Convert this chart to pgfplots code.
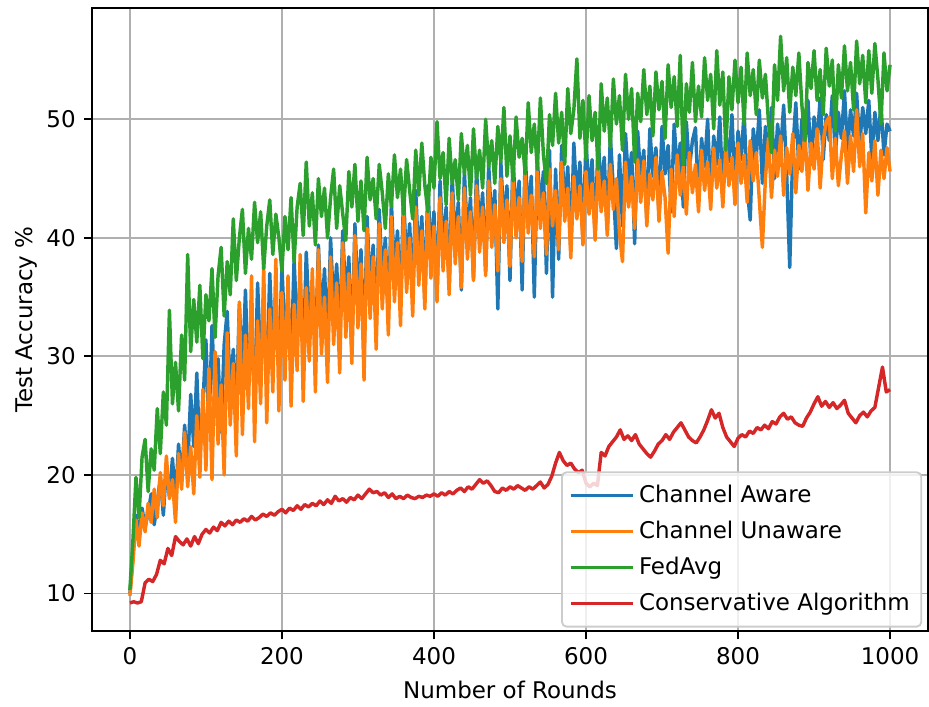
\documentclass[border=0pt]{standalone}
\usepackage{fontspec}
\setmainfont{DejaVu Sans}
\usepackage{pgfplots}
\pgfplotsset{compat=1.18}
\definecolor{tabblue}{HTML}{1F77B4}
\definecolor{taborange}{HTML}{FF7F0E}
\definecolor{tabgreen}{HTML}{2CA02C}
\definecolor{tabred}{HTML}{D62728}
\definecolor{gridgray}{HTML}{B0B0B0}
\definecolor{legedge}{HTML}{CCCCCC}
\begin{document}
\begin{tikzpicture}
\begin{axis}[
  scale only axis, width=364pt, height=271.3pt,
  xmin=-50, xmax=1050, ymin=6.81, ymax=59.39,
  xtick={0,200,400,600,800,1000}, ytick={10,20,30,40,50},
  grid=major, major grid style={color=gridgray, line width=0.8pt},
  axis line style={line width=0.8pt},
  tick align=outside, major tick length=3.5pt,
  tick style={black, line width=0.8pt},
  xtick pos=bottom, ytick pos=left,
  xlabel={Number of Rounds}, ylabel={Test Accuracy \%},
  ylabel style={yshift=-3pt},
  /pgf/number format/assume math mode=true,
  /pgf/number format/1000 sep={},
  tick label style={font=\fontsize{10}{12}\selectfont},
  label style={font=\fontsize{10}{12}\selectfont},
  legend cell align=left,
  legend style={at={(0.993,0.006)}, anchor=south east, draw=legedge, fill=white,
    fill opacity=0.8, text opacity=1, rounded corners=2pt, line width=0.8pt,
    font=\fontsize{10}{12}\selectfont, row sep=2.6pt, inner xsep=3pt, inner ysep=3.5pt},
  legend image code/.code={\draw[#1, line width=1.5pt] (0cm,0cm) -- (0.8cm,0cm); \path (0.8cm,0cm) -- (0.95cm,0cm);},
  every axis plot/.append style={line width=1.5pt, line join=round},
]
\addplot[color=tabblue] coordinates {
(0,10.0)(4,13.2)(8,16.6)(12,15.0)(16,17.2)(20,15.6)(24,16.8)(28,18.4)(32,15.8)(36,17.6)
(40,19.8)(44,16.6)(48,20.6)(52,18.2)(56,21.4)(60,17.8)(64,22.6)(68,19.4)(72,24.2)(76,20.6)
(80,26.8)(84,22.4)(88,28.6)(92,21.6)(96,25.8)(100,31.4)(104,23.8)(108,32.6)(112,26.4)(116,29.8)
(120,23.6)(124,31.0)(128,33.8)(132,26.8)(136,30.6)(140,25.2)(144,34.4)(148,28.2)(152,35.6)(156,27.4)
(160,32.6)(164,26.0)(168,36.2)(172,29.4)(176,33.8)(180,27.6)(184,37.0)(188,30.2)(192,34.6)(196,28.8)
(200,37.6)(204,31.4)(208,35.2)(212,29.0)(216,38.2)(220,32.0)(224,36.4)(228,29.6)(232,38.8)(236,33.0)
(240,36.0)(244,30.2)(248,39.4)(252,32.8)(256,37.4)(260,30.8)(264,40.0)(268,34.0)(272,37.8)(276,31.6)
(280,40.6)(284,34.6)(288,38.4)(292,30.4)(296,41.2)(300,35.0)(304,39.0)(308,29.8)(312,41.8)(316,35.6)
(320,39.4)(324,32.6)(328,42.4)(332,36.4)(336,40.0)(340,33.4)(344,43.0)(348,37.0)(352,40.6)(356,34.2)
(360,43.6)(364,37.6)(368,41.2)(372,35.0)(376,44.0)(380,38.0)(384,41.8)(388,34.6)(392,44.4)(396,38.6)
(400,42.2)(404,35.2)(408,44.8)(412,39.0)(416,42.6)(420,36.0)(424,45.2)(428,39.4)(432,43.0)(436,35.6)
(440,45.6)(444,40.0)(448,43.4)(452,36.6)(456,45.8)(460,40.4)(464,43.8)(468,37.2)(472,46.2)(476,40.8)
(480,44.0)(484,34.0)(488,46.4)(492,41.2)(496,44.4)(500,36.4)(504,46.8)(508,41.6)(512,44.8)(516,35.6)
(520,47.0)(524,42.0)(528,45.2)(532,35.0)(536,46.6)(540,42.4)(544,45.6)(548,37.0)(552,47.4)(556,35.0)
(560,45.8)(564,38.2)(568,47.8)(572,42.8)(576,46.0)(580,39.0)(584,48.0)(588,43.2)(592,46.4)(596,39.8)
(600,48.2)(604,43.6)(608,46.6)(612,40.2)(616,48.4)(620,44.0)(624,46.8)(628,40.6)(632,48.6)(636,44.2)
(640,39.1)(644,47.0)(648,41.0)(652,48.8)(656,44.6)(660,47.2)(664,39.5)(668,49.0)(672,45.0)(676,47.4)
(680,41.6)(684,49.2)(688,45.2)(692,47.6)(696,42.0)(700,49.4)(704,45.4)(708,47.8)(712,42.2)(716,49.6)
(720,45.6)(724,48.0)(728,42.6)(732,49.8)(736,45.8)(740,48.2)(744,49.3)(748,43.0)(752,48.4)(756,46.0)
(760,50.0)(764,43.4)(768,48.6)(772,46.2)(776,50.2)(780,43.8)(784,48.8)(788,46.4)(792,50.4)(796,44.0)
(800,49.0)(804,46.6)(808,50.6)(812,44.2)(816,41.5)(820,49.2)(824,46.8)(828,50.8)(832,44.6)(836,49.4)
(840,47.0)(844,51.0)(848,45.0)(852,49.6)(856,47.2)(860,51.2)(864,45.4)(868,37.5)(872,47.4)(876,51.4)
(880,45.8)(884,50.0)(888,47.6)(892,51.6)(896,46.2)(900,50.2)(904,48.0)(908,51.8)(912,46.6)(916,50.4)
(920,48.2)(924,52.0)(928,47.0)(932,50.6)(936,48.4)(940,52.4)(944,47.4)(948,50.8)(952,48.6)(956,52.2)
(960,47.8)(964,51.0)(968,48.8)(972,51.6)(976,46.6)(980,50.6)(984,48.2)(988,51.2)(992,47.0)(996,49.6)
(1000,49.0)
};
\addlegendentry{Channel Aware}
\addplot[color=taborange] coordinates {
(0,9.8)(4,12.6)(8,16.2)(12,14.0)(16,16.8)(20,15.2)(24,17.6)(28,16.0)(32,18.8)(36,16.4)
(40,20.2)(44,17.4)(48,21.6)(52,18.0)(56,19.6)(60,16.0)(64,21.8)(68,18.8)(72,23.6)(76,19.0)
(80,22.4)(84,18.4)(88,25.0)(92,19.8)(96,27.2)(100,20.4)(104,29.0)(108,19.6)(112,30.4)(116,22.6)
(120,27.6)(124,20.0)(128,32.0)(132,24.2)(136,29.4)(140,21.6)(144,34.6)(148,23.4)(152,31.8)(156,25.6)
(160,36.8)(164,22.8)(168,33.0)(172,26.0)(176,37.6)(180,24.4)(184,34.0)(188,27.0)(192,38.2)(196,25.4)
(200,35.4)(204,28.0)(208,36.8)(212,25.8)(216,34.4)(220,28.8)(224,38.6)(228,26.2)(232,35.8)(236,29.6)
(240,37.4)(244,27.0)(248,39.0)(252,30.2)(256,35.0)(260,27.8)(264,38.4)(268,31.0)(272,36.2)(276,28.6)
(280,39.6)(284,31.6)(288,37.0)(292,29.4)(296,40.2)(300,32.4)(304,37.8)(308,28.0)(312,40.8)(316,33.2)
(320,38.4)(324,30.6)(328,41.2)(332,34.0)(336,39.0)(340,31.8)(344,41.8)(348,34.6)(352,39.6)(356,32.6)
(360,42.2)(364,35.4)(368,40.0)(372,33.4)(376,42.6)(380,36.0)(384,40.6)(388,34.0)(392,43.0)(396,36.6)
(400,41.0)(404,34.6)(408,43.4)(412,37.2)(416,41.4)(420,35.2)(424,43.8)(428,37.8)(432,41.8)(436,35.8)
(440,44.2)(444,38.2)(448,42.2)(452,36.4)(456,44.4)(460,38.8)(464,42.6)(468,36.8)(472,44.8)(476,39.2)
(480,42.8)(484,37.2)(488,45.0)(492,39.6)(496,43.2)(500,37.6)(504,45.2)(508,40.0)(512,43.4)(516,38.0)
(520,45.4)(524,40.4)(528,43.6)(532,38.4)(536,45.6)(540,40.8)(544,43.8)(548,38.6)(552,45.8)(556,41.0)
(560,44.0)(564,39.0)(568,46.4)(572,41.4)(576,44.2)(580,38.3)(584,45.2)(588,41.6)(592,44.4)(596,39.4)
(600,45.6)(604,42.0)(608,44.6)(612,39.8)(616,46.0)(620,42.2)(624,44.8)(628,40.2)(632,46.2)(636,42.4)
(640,45.0)(644,40.4)(648,38.0)(652,46.4)(656,42.6)(660,45.2)(664,40.8)(668,46.6)(672,43.0)(676,46.5)
(680,41.0)(684,45.4)(688,43.2)(692,46.8)(696,41.4)(700,45.6)(704,43.4)(708,38.7)(712,45.8)(716,41.8)
(720,47.0)(724,43.6)(728,46.0)(732,42.0)(736,47.2)(740,43.8)(744,46.2)(748,42.2)(752,47.4)(756,44.0)
(760,46.4)(764,42.4)(768,47.6)(772,44.2)(776,46.6)(780,42.6)(784,47.8)(788,44.4)(792,46.8)(796,42.8)
(800,48.0)(804,44.6)(808,47.0)(812,43.0)(816,48.2)(820,44.8)(824,47.2)(828,43.2)(832,39.2)(836,45.0)
(840,48.4)(844,43.4)(848,47.4)(852,45.2)(856,48.6)(860,43.6)(864,47.6)(868,45.4)(872,48.8)(876,43.8)
(880,47.8)(884,45.6)(888,49.0)(892,44.0)(896,48.0)(900,45.8)(904,49.2)(908,44.2)(912,48.2)(916,49.8)
(920,50.2)(924,45.0)(928,48.4)(932,44.4)(936,47.0)(940,49.0)(944,44.6)(948,48.6)(952,45.6)(956,50.8)
(960,46.0)(964,48.8)(968,42.1)(972,47.2)(976,44.8)(980,48.2)(984,43.6)(988,47.4)(992,45.0)(996,47.6)
(1000,45.6)
};
\addlegendentry{Channel Unaware}
\addplot[color=tabgreen] coordinates {
(0,10.3)(4,14.5)(8,19.8)(12,16.4)(16,21.5)(20,23.0)(24,18.6)(28,22.2)(32,20.4)(36,25.6)
(40,21.8)(44,27.0)(48,24.2)(52,33.9)(56,26.0)(60,29.5)(64,25.4)(68,31.8)(72,28.0)(76,38.6)
(80,30.4)(84,34.8)(88,31.2)(92,36.0)(96,29.8)(100,35.2)(104,33.0)(108,37.4)(112,31.6)(116,36.8)
(120,39.2)(124,33.4)(128,38.0)(132,35.2)(136,41.6)(140,36.4)(144,40.0)(148,42.4)(152,37.0)(156,40.8)
(160,38.2)(164,43.0)(168,39.6)(172,42.2)(176,37.4)(180,41.0)(184,43.2)(188,38.6)(192,42.0)(196,40.0)
(200,37.2)(204,41.8)(208,39.0)(212,43.4)(216,38.0)(220,42.6)(224,44.6)(228,40.2)(232,46.4)(236,41.0)
(240,43.8)(244,39.4)(248,45.0)(252,41.8)(256,44.2)(260,40.0)(264,43.4)(268,45.8)(272,40.8)(276,44.4)
(280,42.0)(284,39.8)(288,45.6)(292,42.6)(296,46.2)(300,41.4)(304,44.8)(308,40.6)(312,46.8)(316,43.2)
(320,45.0)(324,41.6)(328,46.2)(332,43.8)(336,40.8)(340,45.4)(344,42.6)(348,47.0)(352,43.4)(356,45.8)
(360,42.0)(364,46.6)(368,44.0)(372,41.6)(376,47.4)(380,43.6)(384,48.0)(388,44.4)(392,42.2)(396,46.8)
(400,44.2)(404,49.8)(408,45.0)(412,47.2)(416,42.8)(420,48.4)(424,44.6)(428,46.6)(432,43.2)(436,48.8)
(440,45.4)(444,47.8)(448,43.6)(452,49.2)(456,45.0)(460,47.4)(464,44.2)(468,50.0)(472,46.0)(476,48.2)
(480,44.6)(484,49.4)(488,46.4)(492,51.0)(496,45.2)(500,48.6)(504,44.8)(508,50.2)(512,46.8)(516,48.4)
(520,45.4)(524,51.4)(528,47.2)(532,49.6)(536,45.8)(540,51.8)(544,47.0)(548,44.6)(552,50.4)(556,47.8)
(560,52.2)(564,48.0)(568,50.6)(572,46.2)(576,52.6)(580,48.8)(584,50.8)(588,55.1)(592,48.4)(596,51.6)
(600,46.6)(604,52.0)(608,48.2)(612,50.6)(616,45.8)(620,53.0)(624,49.0)(628,51.8)(632,47.6)(636,53.4)
(640,49.6)(644,52.0)(648,47.4)(652,53.8)(656,50.0)(660,52.6)(664,46.4)(668,52.2)(672,49.8)(676,54.2)
(680,50.4)(684,52.8)(688,48.6)(692,54.0)(696,50.8)(700,53.2)(704,48.4)(708,54.6)(712,51.0)(716,53.6)
(720,49.4)(724,55.4)(728,46.2)(732,53.0)(736,50.6)(740,54.8)(744,49.8)(748,52.8)(752,50.2)(756,55.2)
(760,51.6)(764,53.8)(768,49.2)(772,55.8)(776,51.2)(780,54.0)(784,47.4)(788,53.6)(792,50.8)(796,55.0)
(800,51.4)(804,54.4)(808,49.6)(812,55.6)(816,52.0)(820,54.2)(824,50.4)(828,55.0)(832,51.8)(836,53.8)
(840,49.8)(844,47.2)(848,54.6)(852,51.6)(856,57.0)(860,52.4)(864,55.2)(868,50.6)(872,54.4)(876,52.0)
(880,55.6)(884,51.2)(888,48.2)(892,54.8)(896,52.6)(900,55.8)(904,51.6)(908,54.2)(912,50.4)(916,56.0)
(920,52.8)(924,55.0)(928,49.0)(932,54.6)(936,51.8)(940,56.2)(944,52.4)(948,54.8)(952,50.8)(956,56.6)
(960,53.0)(964,55.4)(968,51.4)(972,55.8)(976,52.2)(980,56.4)(984,53.4)(988,49.6)(992,55.6)(996,52.4)
(1000,54.6)
};
\addlegendentry{FedAvg}
\addplot[color=tabred] coordinates {
(0,9.2)(5,9.3)(10,9.2)(15,9.3)(20,10.9)(25,11.2)(30,11.0)(35,11.6)(40,12.8)(45,12.5)
(50,13.8)(55,13.2)(60,14.8)(65,14.4)(70,14.1)(75,14.6)(80,14.0)(85,14.8)(90,14.2)(95,15.0)
(100,15.4)(105,15.1)(110,15.6)(115,15.3)(120,16.0)(125,15.7)(130,16.1)(135,15.8)(140,16.2)(145,16.0)
(150,16.3)(155,16.1)(160,16.5)(165,16.2)(170,16.4)(175,16.7)(180,16.5)(185,16.8)(190,16.6)(195,16.9)
(200,17.1)(205,16.8)(210,17.2)(215,17.0)(220,17.4)(225,17.1)(230,17.5)(235,17.3)(240,17.6)(245,17.4)
(250,17.8)(255,17.5)(260,17.9)(265,17.6)(270,18.2)(275,17.8)(280,18.0)(285,17.7)(290,18.1)(295,17.9)
(300,18.3)(305,18.0)(310,18.4)(315,18.8)(320,18.5)(325,18.6)(330,18.3)(335,18.5)(340,18.1)(345,18.4)
(350,18.0)(355,18.2)(360,18.0)(365,18.3)(370,18.1)(375,18.0)(380,18.2)(385,18.1)(390,18.3)(395,18.2)
(400,18.4)(405,18.2)(410,18.5)(415,18.3)(420,18.6)(425,18.4)(430,18.7)(435,18.9)(440,18.6)(445,19.0)
(450,18.8)(455,19.2)(460,19.6)(465,19.3)(470,19.5)(475,19.1)(480,18.6)(485,18.5)(490,18.9)(495,18.7)
(500,19.0)(505,18.8)(510,19.1)(515,18.9)(520,18.7)(525,19.0)(530,18.8)(535,19.1)(540,19.4)(545,18.9)
(550,19.2)(555,19.9)(560,21.0)(565,21.9)(570,21.2)(575,20.8)(580,21.0)(585,20.5)(590,20.2)(595,20.4)
(600,19.3)(605,19.0)(610,19.3)(615,19.1)(620,21.9)(625,21.6)(630,22.4)(635,22.8)(640,23.2)(645,23.8)
(650,23.0)(655,23.3)(660,22.9)(665,23.4)(670,22.6)(675,22.2)(680,21.8)(685,21.5)(690,22.0)(695,22.6)
(700,22.9)(705,23.4)(710,23.0)(715,23.6)(720,24.0)(725,24.4)(730,23.8)(735,23.2)(740,22.9)(745,22.7)
(750,23.2)(755,23.8)(760,24.6)(765,25.5)(770,24.8)(775,25.2)(780,24.0)(785,23.2)(790,22.8)(795,22.4)
(800,23.1)(805,23.4)(810,23.2)(815,23.7)(820,23.5)(825,24.0)(830,23.8)(835,24.2)(840,23.9)(845,24.5)
(850,24.3)(855,24.9)(860,25.2)(865,24.7)(870,24.9)(875,24.4)(880,24.2)(885,24.1)(890,24.8)(895,25.3)
(900,26.0)(905,26.6)(910,25.8)(915,26.2)(920,25.7)(925,26.1)(930,25.6)(935,25.9)(940,26.3)(945,25.2)
(950,24.8)(955,24.4)(960,25.0)(965,25.3)(970,24.9)(975,25.4)(980,25.7)(985,27.4)(990,29.1)(995,27.0)
(1000,27.2)
};
\addlegendentry{Conservative Algorithm}
\end{axis}
\useasboundingbox ([xshift=-40pt,yshift=-32.2pt]current axis.south west) rectangle ([yshift=3.5pt]current axis.north east);
\end{tikzpicture}
\end{document}
